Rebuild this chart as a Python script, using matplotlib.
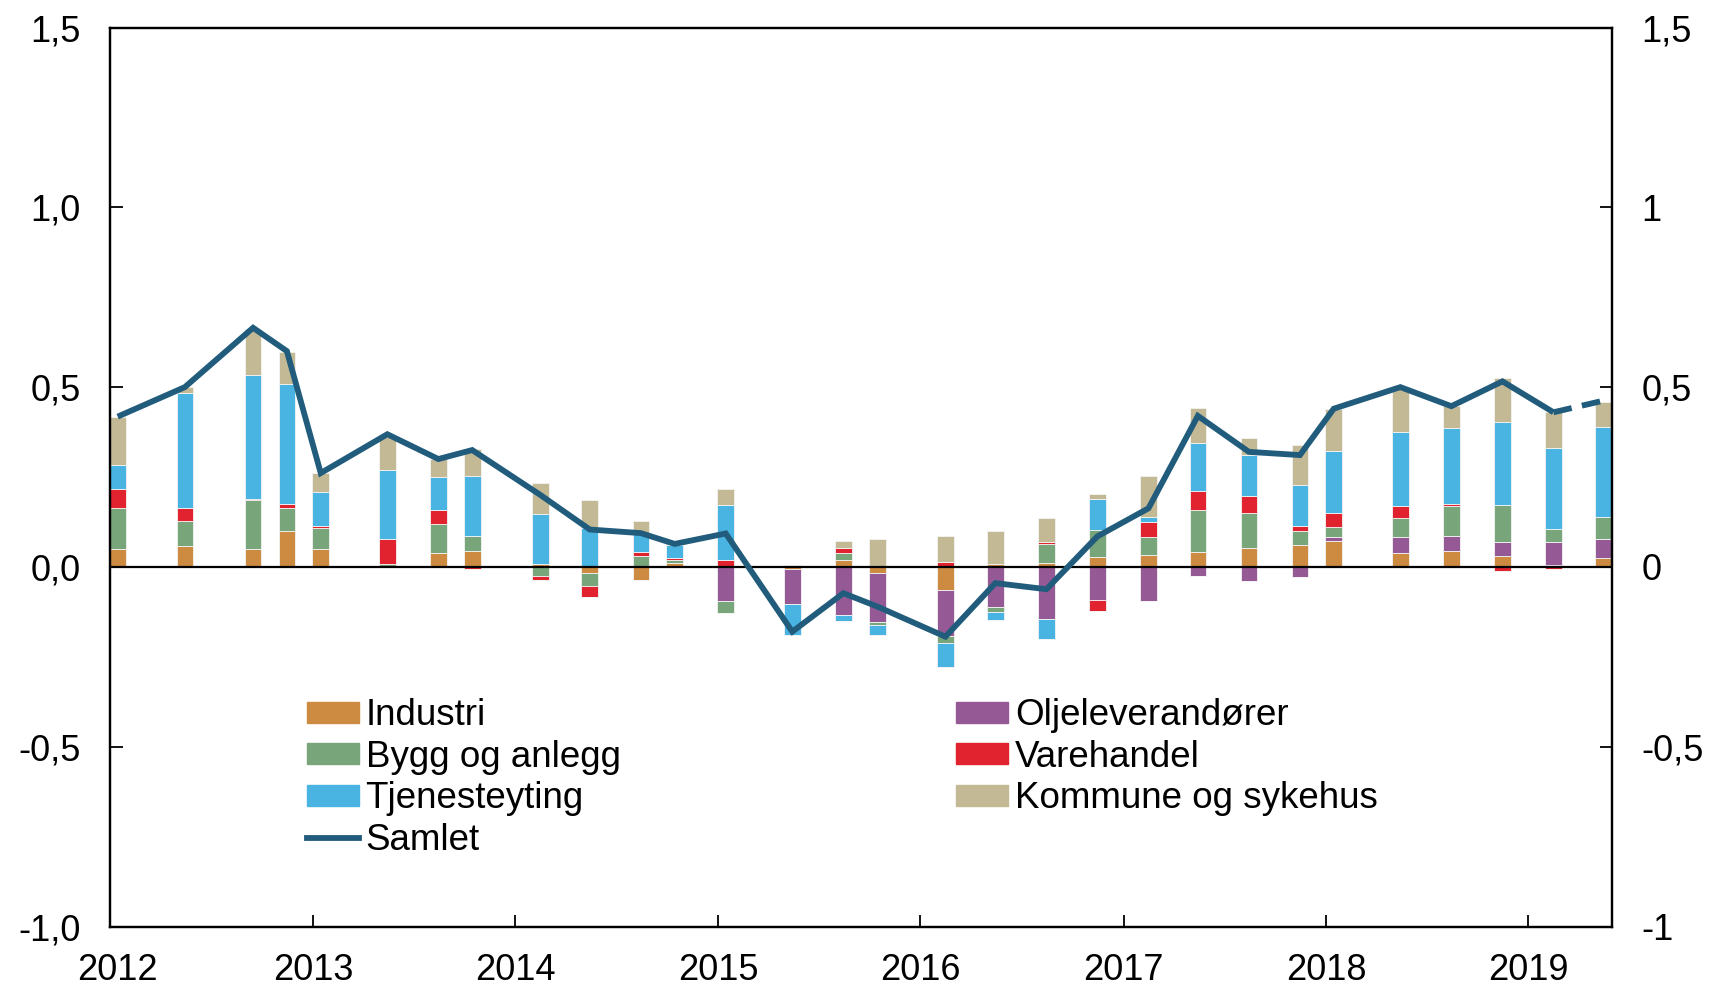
import matplotlib
matplotlib.use("Agg")
import matplotlib.pyplot as plt
import matplotlib.dates as mdates
import matplotlib.transforms as mtransforms
import numpy as np
import pandas as pd
from matplotlib.patches import Patch
from matplotlib.lines import Line2D

plt.rcParams['font.family'] = ['Liberation Sans', 'DejaVu Sans']

dates = ["2012-01-15", "2012-05-15", "2012-09-15", "2012-11-15", "2013-01-15",
         "2013-05-15", "2013-08-15", "2013-10-15", "2014-02-15", "2014-05-15",
         "2014-08-15", "2014-10-15", "2015-01-15", "2015-05-15", "2015-08-15",
         "2015-10-15", "2016-02-15", "2016-05-15", "2016-08-15", "2016-11-15",
         "2017-02-15", "2017-05-15", "2017-08-15", "2017-11-15", "2018-01-15",
         "2018-05-15", "2018-08-15", "2018-11-15", "2019-02-15", "2019-05-15"]

industri = [0.050, 0.057, 0.050, 0.101, 0.050, 0.003, 0.038, 0.045, 0.008, -0.016,
            -0.037, 0.012, 0.000, -0.006, 0.018, -0.016, -0.063, 0.009, 0.012, 0.027,
            0.032, 0.042, 0.054, 0.062, 0.073, 0.040, 0.044, 0.031, 0.006, 0.025]
olje = [0, 0, 0, 0, 0, 0, 0, 0, 0, 0,
        0, 0, -0.096, -0.098, -0.133, -0.138, -0.130, -0.112, -0.144, -0.093,
        -0.096, -0.024, -0.040, -0.028, 0.010, 0.043, 0.042, 0.039, 0.063, 0.053]
bygg = [0.113, 0.071, 0.135, 0.062, 0.058, 0.005, 0.081, 0.042, -0.026, -0.038,
        0.030, 0.006, -0.033, 0.005, 0.021, -0.007, -0.019, -0.012, 0.052, 0.077,
        0.051, 0.116, 0.096, 0.037, 0.027, 0.052, 0.083, 0.103, 0.037, 0.061]
vare = [0.054, 0.035, 0.005, 0.012, 0.006, 0.070, 0.038, -0.007, -0.011, -0.031,
        0.012, 0.006, 0.020, 0.000, 0.014, 0.000, 0.014, 0.000, 0.006, -0.030,
        0.041, 0.053, 0.047, 0.015, 0.040, 0.035, 0.006, -0.012, -0.005, 0.000]
tjeneste = [0.067, 0.322, 0.343, 0.335, 0.094, 0.192, 0.094, 0.167, 0.140, 0.108,
            0.053, 0.036, 0.151, -0.086, -0.016, -0.027, -0.067, -0.023, -0.056, 0.084,
            0.014, 0.135, 0.114, 0.114, 0.173, 0.204, 0.212, 0.231, 0.226, 0.251]
kommune = [0.134, 0.014, 0.130, 0.089, 0.053, 0.090, 0.049, 0.074, 0.084, 0.079,
           0.033, 0.004, 0.047, 0.000, 0.020, 0.077, 0.072, 0.090, 0.065, 0.014,
           0.116, 0.097, 0.048, 0.111, 0.117, 0.125, 0.060, 0.120, 0.100, 0.070]
samlet = [0.418, 0.500, 0.665, 0.600, 0.261, 0.369, 0.300, 0.325, 0.200, 0.104,
          0.094, 0.064, 0.093, -0.180, -0.073, -0.110, -0.194, -0.045, -0.062, 0.085,
          0.163, 0.420, 0.320, 0.311, 0.440, 0.500, 0.447, 0.516, 0.430, 0.462]

series_names = ["Industri", "Oljeleverandører", "Bygg og anlegg", "Varehandel",
                "Tjenesteyting", "Kommune og sykehus"]
series_vals = [industri, olje, bygg, vare, tjeneste, kommune]
colors = ["#CD8B42", "#955A95", "#79A57B", "#E0232F", "#49B4E1", "#C4B995"]
line_color = "#225C7D"

x = pd.to_datetime(dates)
xn = mdates.date2num(x)

fig = plt.figure(figsize=(17.15, 9.86), dpi=100)
ax = fig.add_axes([0.0641, 0.0603, 0.876, 0.9118])

pos_bottom = np.zeros(len(xn))
neg_bottom = np.zeros(len(xn))
for vals, col in zip(series_vals, colors):
    v = np.array(vals, dtype=float)
    pos = np.where(v > 0, v, 0)
    neg = np.where(v < 0, v, 0)
    ax.bar(xn, pos, bottom=pos_bottom, width=30, color=col, edgecolor="#f4f4f4",
           linewidth=0.6, zorder=2)
    ax.bar(xn, neg, bottom=neg_bottom, width=30, color=col, edgecolor="#f4f4f4",
           linewidth=0.6, zorder=2)
    pos_bottom += pos
    neg_bottom += neg

ax.axhline(0, color="black", lw=1.6, zorder=3)
ax.plot(xn[:-1], samlet[:-1], color=line_color, lw=4.2, zorder=4,
        solid_capstyle="butt", solid_joinstyle="miter")
ax.plot(xn[-2:], samlet[-2:], color=line_color, lw=4.2, zorder=4,
        dashes=(3.2, 1.8))

xmin = mdates.date2num(pd.Timestamp("2012-01-01"))
xmax = mdates.date2num(pd.Timestamp("2019-06-01"))
ax.set_xlim(xmin, xmax)
ax.set_ylim(-1.0, 1.5)

years = list(range(2012, 2020))
ax.set_xticks([mdates.date2num(pd.Timestamp(f"{y}-01-01")) for y in years])
ax.set_xticklabels([str(y) for y in years])

yt = [-1.0, -0.5, 0.0, 0.5, 1.0, 1.5]
ax.set_yticks(yt)
ax.set_yticklabels(["-1,0", "-0,5", "0,0", "0,5", "1,0", "1,5"])

ax2 = ax.twinx()
ax2.set_ylim(-1.0, 1.5)
ax2.set_yticks(yt)
ax2.set_yticklabels(["-1", "-0,5", "0", "0,5", "1", "1,5"])

for a in (ax, ax2):
    for s in a.spines.values():
        s.set_linewidth(1.6)
        s.set_color("black")
ax.tick_params(axis="both", direction="in", length=9, width=1.3, labelsize=26)
ax.tick_params(axis="y", pad=21)
ax.tick_params(axis="x", pad=19)
ax2.tick_params(axis="y", direction="in", length=9, width=1.3, labelsize=26, pad=21)

# nudge the first year label slightly right, as in the reference
first_lbl = ax.get_xticklabels()[0]
first_lbl.set_transform(first_lbl.get_transform() +
                        mtransforms.ScaledTranslation(8 / 100, 0, fig.dpi_scale_trans))

handles = [Patch(color=colors[0]), Patch(color=colors[2]), Patch(color=colors[4]),
           Line2D([], [], color=line_color, lw=4.2),
           Patch(color=colors[1]), Patch(color=colors[3]), Patch(color=colors[5])]
labels = ["Industri", "Bygg og anlegg", "Tjenesteyting", "Samlet",
          "Oljeleverandører", "Varehandel", "Kommune og sykehus"]
leg = ax.legend(handles, labels, ncol=2, loc="upper left",
                bbox_to_anchor=(0.1788, 0.292), bbox_transform=fig.transFigure,
                frameon=False, fontsize=26.5, handlelength=1.41, handleheight=0.5,
                handletextpad=0.19, labelspacing=0.18, columnspacing=9.12,
                borderpad=0, borderaxespad=0)

fig.savefig("out.png", dpi=100)
